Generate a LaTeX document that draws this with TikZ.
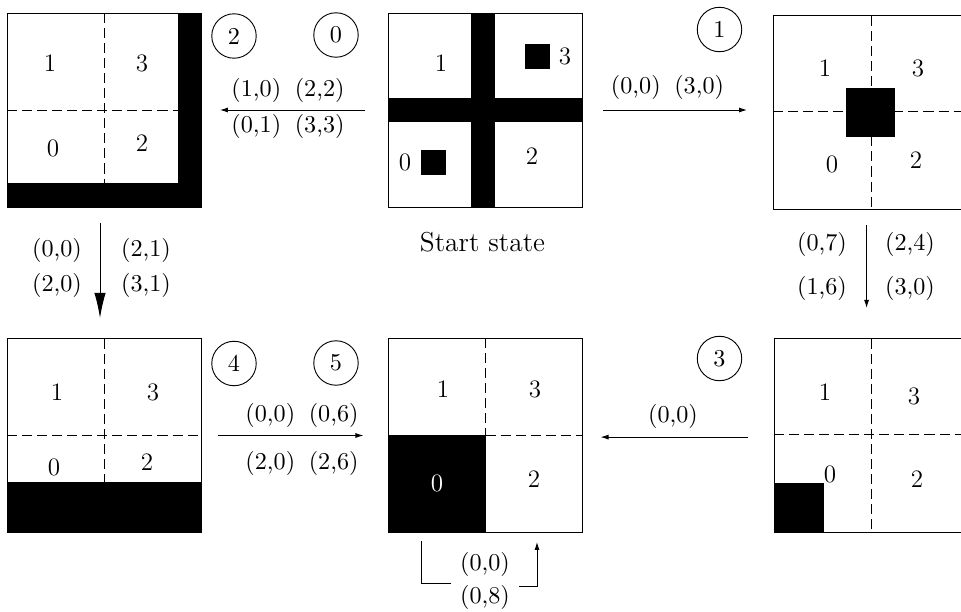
\documentclass[tikz,border=0pt]{standalone}
\usetikzlibrary{arrows.meta}
\tikzset{
  box/.style={draw, minimum width=85.1pt, minimum height=85.1pt, inner sep=0pt, outer sep=0pt},
  gridline/.style={dash pattern=on 4.4pt off 2.2pt},
  num/.style={font=\fontsize{11pt}{13pt}\selectfont, inner sep=0pt},
  lab/.style={font=\fontsize{10.6pt}{12.7pt}\selectfont, inner sep=0pt},
  statenum/.style={circle, draw, minimum size=19.5pt, inner sep=0pt, font=\fontsize{10.6pt}{12.7pt}\selectfont},
  arr/.style={-{Latex[length=3.5pt,width=2.2pt]}},
  bigarr/.style={-{Latex[length=11pt,width=5pt]}},
}
\begin{document}
\begin{tikzpicture}[x=0.4386pt,y=-0.4386pt]
\useasboundingbox (0,0) rectangle (961,612);
\clip (0,0) rectangle (961,612);
% boxes
\node[box] (s2) at (104,110) {};
\node[box] (s0) at (485.5,110) {};
\node[box] (s1) at (870,112.5) {};
\node[box] (s4) at (104,435.5) {};
\node[box] (s5) at (485.5,435) {};
\node[box] (s3) at (871,435.5) {};
% dashed quadrant lines
\draw[gridline] (104,13) -- (104,183);
\draw[gridline] (7,110) -- (178,110);
\draw[gridline] (871,16) -- (871,209);
\draw[gridline] (773,111) -- (967,111);
\draw[gridline] (104,338.5) -- (104,482);
\draw[gridline] (7,435) -- (201,435);
\draw[gridline] (485.5,338) -- (485.5,435);
\draw[gridline] (485.5,435) -- (583,435);
\draw[gridline] (871,338.5) -- (871,532.5);
\draw[gridline] (774,434) -- (968,434);
% black regions
\fill (178,13) rectangle (201,207);
\fill (7,183) rectangle (201,207);
\fill (471,13) rectangle (495,207);
\fill (388,98) rectangle (583,122);
\fill (525,44) rectangle (550,69);
\fill (421,150) rectangle (446,175);
\fill (846,88) rectangle (895,137);
\fill (7,482) rectangle (201,532.5);
\fill (388,435) rectangle (485.5,532);
\fill (774,483) rectangle (824,532.5);
% quadrant numbers
\node[num] (a1) at (50,63) {1};
\node[num] (a3) at (142,63) {3};
\node[num] (a0) at (53,148) {0};
\node[num] (a2) at (142,143) {2};
\node[num] (b1) at (441,63) {1};
\node[num] (b3) at (565,56) {3};
\node[num] (b0) at (405,162) {0};
\node[num] (b2) at (532,156) {2};
\node[num] (c1) at (825,68) {1};
\node[num] (c3) at (918,68) {3};
\node[num] (c0) at (832,164) {0};
\node[num] (c2) at (916,160) {2};
\node[num] (d1) at (57,392) {1};
\node[num] (d3) at (153,392) {3};
\node[num] (d0) at (54,467) {0};
\node[num] (d2) at (147,462) {2};
\node[num] (e1) at (443,389) {1};
\node[num] (e3) at (535,389) {3};
\node[num, text=white] (e0) at (437,483) {0};
\node[num] (e2) at (534,479) {2};
\node[num] (f1) at (825,392) {1};
\node[num] (f3) at (914,396) {3};
\node[num] (f0) at (830,474) {0};
\node[num] (f2) at (917,479) {2};
% state numbers
\node[statenum] (k2) at (234,36) {2};
\node[statenum] (k0) at (336,35) {0};
\node[statenum] (k1) at (719.5,29.5) {1};
\node[statenum] (k4) at (234,363.5) {4};
\node[statenum] (k5) at (336,363) {5};
\node[statenum] (k3) at (719.5,358.5) {3};
\node[font=\large, inner sep=0pt] (start) at (482.5,242) {Start state};
% transitions
\draw[arr, shorten <=10.1pt, shorten >=8.3pt] (s0.west) -- (s2.east);
\node[lab] (t1) at (288,90.5) {(1,0)\hspace{6pt}(2,2)};
\node[lab] (t2) at (288,126) {(0,1)\hspace{6pt}(3,3)};
\draw[arr, shorten <=9.2pt, shorten >=11.4pt] (s0.east) -- (s0.east -| s1.west);
\node[lab] (t3) at (667.5,87.5) {(0,0)\hspace{6pt}(3,0)};
\draw[bigarr, shorten <=7pt, shorten >=9pt] ([xshift=-1.75pt]s2.south) -- ([xshift=-1.75pt]s2.south |- s4.north);
\node[lab] (t4) at (57,250) {(0,0)};
\node[lab] (t5) at (146,250) {(2,1)};
\node[lab] (t6) at (57,285) {(2,0)};
\node[lab] (t7) at (146,285) {(3,1)};
\draw[arr, shorten <=6.8pt, shorten >=13.4pt] ([xshift=-1.5pt]s1.south) -- ([xshift=-1.5pt]s1.south |- s3.north);
\node[lab] (t8) at (822,244) {(0,7)};
\node[lab] (t9) at (910,244) {(2,4)};
\node[lab] (t10) at (822,288) {(1,6)};
\node[lab] (t11) at (910,288) {(3,0)};
\draw[arr, shorten <=7.5pt, shorten >=11pt] (s4.east) -- (s4.east -| s5.west);
\node[lab] (t12) at (302,415) {(0,0)\hspace{6pt}(0,6)};
\node[lab] (t13) at (302,463) {(2,0)\hspace{6pt}(2,6)};
\draw[arr, shorten <=11.4pt, shorten >=7.9pt] ([yshift=-0.7pt]s3.west) -- ([yshift=-0.7pt]s3.west -| s5.east);
\node[lab] (t14) at (673,416) {(0,0)};
% self loop
\coordinate (la) at (421,541);
\coordinate (lb) at (451,583);
\coordinate (lc) at (519,586);
\coordinate (ld) at (537,542);
\draw (la) |- (lb);
\draw[arr] (lc) -| (ld);
\node[lab] (t15) at (485,564) {(0,0)};
\node[lab] (t16) at (485,597) {(0,8)};
\end{tikzpicture}
\end{document}
